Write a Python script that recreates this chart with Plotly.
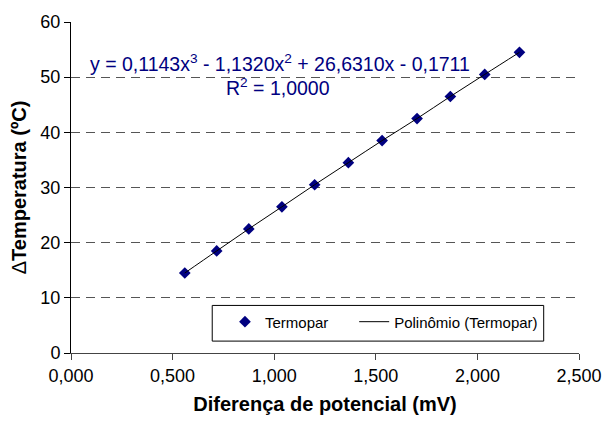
import plotly.graph_objects as go

# Data
ddp_mv = [0.560, 0.717, 0.875, 1.038, 1.199, 1.365, 1.531, 1.703, 1.867, 2.036, 2.207]
delta_temp = [14.5, 18.5, 22.5, 26.5, 30.5, 34.5, 38.5, 42.5, 46.5, 50.5, 54.5]
x_ticks = [0.0, 0.5, 1.0, 1.5, 2.0, 2.5]
y_ticks = [0, 10, 20, 30, 40, 50, 60]
series_names = ["Termopar", "Polinômio (Termopar)"]
eq_line1 = "y = 0,1143x<sup>3</sup> - 1,1320x<sup>2</sup> + 26,6310x - 0,1711"
eq_line2 = "R<sup>2</sup> = 1,0000"

FONT = "Liberation Sans, Arial, sans-serif"
NAVY = "#000080"

L, R, T, B = 71, 25, 19, 71
PW, PH = 614 - L - R, 424 - T - B


def px_x(p):
    return (p - L) / PW


def px_y(p):
    return (424 - B - p) / PH


fig = go.Figure()
fig.add_trace(go.Scatter(
    x=ddp_mv, y=delta_temp, mode="markers",
    name=series_names[0] + "\u00a0" * 5,
    marker=dict(symbol="diamond", size=9, color=NAVY, line=dict(width=0)),
))
fig.add_trace(go.Scatter(
    x=ddp_mv, y=delta_temp, mode="lines", name=series_names[1],
    line=dict(color="black", width=1, shape="spline"),
))

fig.update_layout(
    width=614, height=424,
    margin=dict(l=L, r=R, t=T, b=B),
    paper_bgcolor="white", plot_bgcolor="white",
    separators=",.",
    font=dict(family=FONT, size=18, color="black"),
    showlegend=True,
    legend=dict(
        orientation="h",
        x=px_x(228), xanchor="left",
        y=px_y(305), yanchor="top",
        borderwidth=0, bgcolor="rgba(0,0,0,0)",
        font=dict(family=FONT, size=15, color="black"),
        traceorder="normal",
    ),
    shapes=[
        dict(type="rect", xref="paper", yref="paper",
             x0=px_x(215), x1=px_x(553), y0=px_y(341), y1=px_y(305),
             line=dict(color="black", width=1), fillcolor="white", layer="below"),
    ],
    annotations=[
        dict(text=eq_line1, xref="paper", yref="paper",
             x=px_x(88), y=px_y(60), xanchor="left", yanchor="middle",
             showarrow=False, font=dict(family=FONT, size=19.5, color=NAVY)),
        dict(text=eq_line2, xref="paper", yref="paper",
             x=px_x(227), y=px_y(85), xanchor="left", yanchor="middle",
             showarrow=False, font=dict(family=FONT, size=19.5, color=NAVY)),
    ],
)

fig.update_xaxes(
    range=[0, 2.5], tickvals=x_ticks, tickformat=".3f",
    showgrid=False, zeroline=False,
    showline=True, linecolor="#444444", linewidth=1,
    ticks="outside", ticklen=6, tickcolor="#444444",
    tickfont=dict(family=FONT, size=18, color="black"),
    title=dict(text="<b>Diferença de potencial (mV)</b>", standoff=12,
               font=dict(family=FONT, size=20, color="black")),
)
fig.update_yaxes(
    range=[0, 60], tickvals=y_ticks,
    showgrid=True, gridcolor="#555555", gridwidth=1, griddash="9px,6px",
    zeroline=False,
    showline=True, linecolor="black", linewidth=1,
    ticks="outside", ticklen=6, tickcolor="black",
    tickfont=dict(family=FONT, size=18, color="black"),
    title=dict(text="Δ<b>Temperatura (ºC)</b>", standoff=8,
               font=dict(family=FONT, size=20, color="black")),
)

fig.write_html("out.html")
